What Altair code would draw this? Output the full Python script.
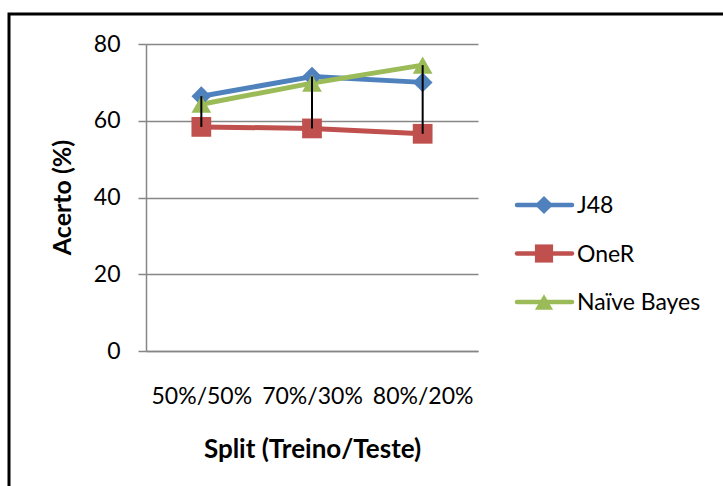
import altair as alt
import pandas as pd

# Accuracy (%) per train/test split for each classifier
splits = ["50%/50%", "70%/30%", "80%/20%"]
classifiers = ["J48", "OneR", "Naïve Bayes"]
j48 = [66.4, 71.5, 70.0]
oner = [58.4, 58.0, 56.6]
naive_bayes = [64.3, 69.8, 74.5]
y_ticks = [0, 20, 40, 60, 80]

colors = ["#4F81BD", "#C0504D", "#9BBB59"]
shapes = ["diamond", "square", "triangle-up"]

rows = []
for name, vals in zip(classifiers, [j48, oner, naive_bayes]):
    for split, val in zip(splits, vals):
        rows.append({"split": split, "classifier": name, "acerto": val})
df = pd.DataFrame(rows)
legend_df = pd.DataFrame({"classifier": classifiers})

FONT = "Lato"
GRAY = "#868686"
LABEL_SIZE = 23
W, H = 332, 307

x_enc = alt.X(
    "split:N",
    sort=splits,
    scale=alt.Scale(type="point", padding=0.5),
    axis=alt.Axis(
        title="Split (Treino/Teste)",
        labelAngle=0,
        ticks=False,
        tickSize=0,
        labelBaseline="alphabetic",
        labelPadding=52,
        labelFontSize=LABEL_SIZE,
        labelColor="black",
        domainColor=GRAY,
        domainWidth=1.5,
        grid=False,
        titleFontSize=26,
        titleFontWeight="bold",
        titleColor="black",
        titleY=106,
        titleBaseline="alphabetic",
    ),
)

y_axis = alt.Axis(
    values=y_ticks,
    title="Acerto (%)",
    titleFontSize=25,
    titleFontWeight="bold",
    titleColor="black",
    titleX=-76,
    titleY=153,
    titleAlign="center",
    titleBaseline="alphabetic",
    labelFontSize=LABEL_SIZE,
    labelColor="black",
    labelPadding=18,
    tickSize=8,
    tickColor=GRAY,
    tickWidth=1.5,
    domainColor=GRAY,
    domainWidth=1.5,
    grid=True,
    gridColor=GRAY,
    gridWidth=1.5,
)
y_scale = alt.Scale(domain=[0, 80], nice=False)


def y_enc(field):
    return alt.Y(field, type="quantitative", scale=y_scale, axis=y_axis)


color_enc = alt.Color(
    "classifier:N", scale=alt.Scale(domain=classifiers, range=colors), legend=None
)
shape_enc = alt.Shape(
    "classifier:N", scale=alt.Scale(domain=classifiers, range=shapes), legend=None
)

base = alt.Chart(df)

lines = base.mark_line(strokeWidth=5, strokeCap="round", strokeJoin="round").encode(
    x=x_enc, y=y_enc("acerto"), color=color_enc
)
points = base.mark_point(filled=True, size=390, opacity=1).encode(
    x=x_enc, y=y_enc("acerto"), color=color_enc, shape=shape_enc
)
# high-low lines spanning the classifiers at each split
high_low = (
    base.transform_aggregate(lo="min(acerto)", hi="max(acerto)", groupby=["split"])
    .mark_rule(color="black", strokeWidth=2)
    .encode(x=x_enc, y=y_enc("lo"), y2="hi:Q")
)
plot = alt.layer(lines, points, high_low)

# legend: line + marker + label for each classifier
leg_y = alt.Y(
    "classifier:N",
    sort=classifiers,
    scale=alt.Scale(type="point", domain=classifiers, range=[161, 258], padding=0),
    axis=None,
)
leg_base = alt.Chart(legend_df)
leg_lines = leg_base.mark_rule(strokeWidth=4.5, strokeCap="round").encode(
    x=alt.value(371), x2=alt.value(426), y=leg_y, color=color_enc
)
leg_points = leg_base.mark_point(filled=True, size=330, opacity=1).encode(
    x=alt.value(398), y=leg_y, color=color_enc, shape=shape_enc
)
leg_text = leg_base.mark_text(
    align="left", baseline="alphabetic", dy=8, fontSize=LABEL_SIZE, color="black"
).encode(x=alt.value(431), y=leg_y, text="classifier:N")
legend = alt.layer(leg_lines, leg_points, leg_text)

# outer chart border
frame = (
    alt.Chart(alt.Data(values=[{}]))
    .mark_rect(fillOpacity=0, stroke="black", strokeWidth=3)
    .encode(x=alt.value(-137), x2=alt.value(700), y=alt.value(-30), y2=alt.value(600))
)

chart = (
    alt.layer(plot, legend, frame)
    .resolve_scale(y="independent")
    .properties(
        width=W,
        height=H,
        padding={"left": 146, "top": 44, "right": 245, "bottom": 135},
        autosize=alt.AutoSizeParams(type="none"),
        background="white",
    )
    .configure(font=FONT)
    .configure_view(stroke=None)
)

chart.save("out.html", embed_options={"renderer": "svg", "actions": False})
